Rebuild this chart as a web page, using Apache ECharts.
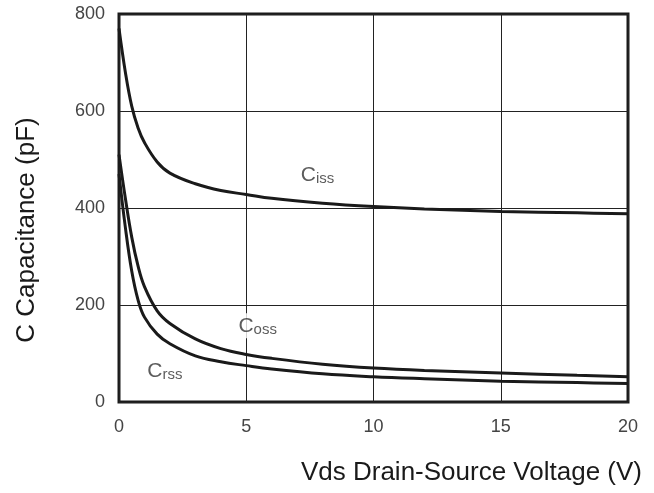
<!DOCTYPE html>
<html>
<head>
<meta charset="utf-8">
<script src="https://cdn.jsdelivr.net/npm/echarts@6/dist/echarts.min.js"></script>
<style>
  html, body { margin: 0; padding: 0; background: #fff; }
  #chart { width: 654px; height: 493px; }
</style>
</head>
<body>
<div id="chart"></div>
<script>
// 电压 (V)
const vds = [0, 0.25, 0.5, 0.75, 1, 1.5, 2, 3, 4, 5, 6, 8, 10, 12, 15, 18, 20]
// 电容曲线 (pF)
const ciss = [770, 680, 610, 565, 535, 495, 472, 450, 436, 428, 420, 410, 403, 398, 393, 390, 388]
const coss = [510, 420, 340, 280, 238, 188, 162, 130, 110, 98, 90, 78, 70, 65, 60, 55, 52]
const crss = [470, 360, 270, 210, 175, 140, 120, 95, 83, 75, 68, 58, 52, 48, 43, 40, 38]

// 曲线标注 [x, y, 名称, 下标]
const curveLabels = [
  [7.8, 468, 'C', 'iss'],
  [5.45, 157, 'C', 'oss'],
  [1.8, 64, 'C', 'rss']
]

const xTicks = [0, 5, 10, 15, 20]
const yTicks = [0, 200, 400, 600, 800]

function toPairs(ys) {
  return vds.map((v, i) => [v, ys[i]])
}

function lineSeries(name, ys) {
  return {
    name: name,
    type: 'line',
    data: toPairs(ys),
    smooth: 0.4,
    showSymbol: false,
    lineStyle: { color: '#1a1a1a', width: 3 },
    z: 3
  }
}

let chart = echarts.init(document.getElementById('chart'), null, { renderer: 'canvas' })

let option = {
  animation: false,
  backgroundColor: '#fff',
  grid: {
    left: 119, right: 26, top: 14, bottom: 91,
    show: true,
    borderColor: '#1a1a1a',
    borderWidth: 3
  },
  xAxis: {
    type: 'value',
    min: xTicks[0],
    max: xTicks[xTicks.length - 1],
    interval: 5,
    name: 'Vds Drain-Source Voltage (V)',
    nameLocation: 'end',
    nameGap: 14,
    nameTextStyle: {
      fontFamily: 'Liberation Sans',
      fontSize: 26,
      color: '#1a1a1a',
      align: 'right',
      verticalAlign: 'top',
      padding: [58, 0, 0, 0]
    },
    axisLine: { show: false },
    axisTick: { show: false },
    axisLabel: {
      margin: 16,
      fontFamily: 'Liberation Sans',
      fontSize: 18,
      color: '#444'
    },
    splitLine: { show: true, lineStyle: { color: '#222', width: 1 } }
  },
  yAxis: {
    type: 'value',
    min: yTicks[0],
    max: yTicks[yTicks.length - 1],
    interval: 200,
    name: 'C Capacitance (pF)',
    nameLocation: 'middle',
    nameGap: 79,
    nameRotate: 90,
    nameTextStyle: {
      fontFamily: 'Liberation Sans',
      fontSize: 26,
      color: '#1a1a1a',
      padding: [0, 44, 0, 0]
    },
    axisLine: { show: false },
    axisTick: { show: false },
    axisLabel: {
      margin: 14,
      fontFamily: 'Liberation Sans',
      fontSize: 18,
      color: '#444'
    },
    splitLine: { show: true, lineStyle: { color: '#222', width: 1 } }
  },
  series: [
    lineSeries('Ciss', ciss),
    lineSeries('Coss', coss),
    lineSeries('Crss', crss),
    {
      // 标注文字（白底遮住网格线）
      type: 'scatter',
      symbolSize: 0,
      z: 2,
      data: curveLabels.map(d => ({ value: [d[0], d[1]], main: d[2], sub: d[3] })),
      label: {
        show: true,
        position: 'inside',
        backgroundColor: '#fff',
        padding: [1, 2, 1, 2],
        formatter: p => '{c|' + p.data.main + '}{s|' + p.data.sub + '}',
        rich: {
          c: { fontFamily: 'Liberation Sans', fontSize: 21, color: '#333' },
          s: { fontFamily: 'Liberation Sans', fontSize: 15, color: '#333', padding: [8, 0, 0, 0] }
        }
      }
    }
  ]
}

chart.setOption(option)
</script>
</body>
</html>
